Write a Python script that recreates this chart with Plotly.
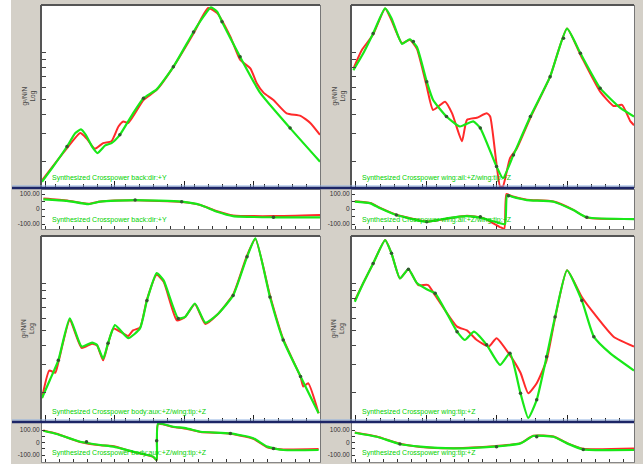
import math
import plotly.graph_objects as go

W, H = 643, 464

# ---------------- data (frequency, magnitude / phase) ----------------
# Top-left: back:dir:+Y
tl_g_f = [0, 16, 36, 48, 56, 63, 72, 80, 91, 100, 112, 131, 146, 165, 189, 218, 232, 243, 252, 259, 285, 314, 357, 400]
tl_g_m = [1.47, 1.84, 2.48, 3.03, 3.2, 2.95, 2.48, 2.25, 2.52, 2.61, 2.95, 4.06, 5.08, 5.8, 8.1, 13.6, 17.0, 19.6, 18.4, 15.8, 9.4, 5.5, 3.26, 1.98]
tl_r_f = [0, 36, 55, 64, 76, 88, 100, 110, 117, 124, 146, 165, 189, 218, 239, 252, 271, 285, 300, 309, 319, 333, 352, 372, 386, 400]
tl_r_m = [1.5, 2.42, 3.03, 2.8, 2.4, 2.61, 2.68, 3.34, 3.6, 3.52, 4.95, 5.75, 8.1, 13.3, 19.4, 18.0, 12.7, 9.0, 7.9, 6.35, 5.5, 4.95, 4.06, 3.91, 3.52, 2.95]
tl_gp_f = [2, 36, 67, 84, 134, 201, 228, 252, 275, 333, 400]
tl_gp_v = [65, 55, 33, 49, 60, 49, 27, -18, -47, -55, -55]
tl_rp_f = [2, 36, 67, 84, 134, 201, 228, 252, 275, 333, 400]
tl_rp_v = [70, 57, 35, 50, 58, 47, 27, -15, -43, -47, -40]
tl_mk_f = [36, 112, 146, 189, 218, 259, 285, 357]
tl_mk_m = [2.48, 2.95, 5.08, 8.1, 13.6, 15.8, 9.4, 3.26]
tl_pmk_f = [134, 201, 333]
tl_pmk_v = [60, 49, -55]

# Top-right: wing:ail:+Z / wing:tip:+Z
tr_g_f = [2, 16, 30, 47, 56, 71, 82, 92, 106, 115, 134, 153, 172, 182, 205, 214, 229, 253, 281, 305, 324, 352, 381, 400]
tr_g_m = [7.7, 9.9, 13.3, 19.3, 16.7, 11.4, 12.2, 10.9, 6.5, 4.95, 3.87, 3.34, 3.6, 3.26, 1.84, 1.55, 2.19, 3.87, 7.0, 14.3, 9.9, 5.9, 4.38, 3.87]
tr_r_f = [2, 14, 30, 47, 56, 71, 82, 92, 106, 115, 132, 142, 156, 163, 177, 191, 196, 210, 214, 224, 234, 253, 281, 305, 324, 352, 371, 383, 395, 400]
tr_r_m = [7.9, 10.4, 13.1, 19.3, 16.2, 11.5, 12.1, 10.6, 6.05, 4.27, 4.83, 4.06, 2.68, 3.68, 3.8, 4.06, 3.87, 1.37, 1.37, 2.08, 2.42, 3.8, 7.0, 14.3, 9.7, 5.6, 4.53, 4.6, 3.6, 3.4]
tr_gp_f = [4, 26, 40, 63, 106, 134, 163, 186, 210, 217, 220, 227, 248, 286, 314, 333, 400]
tr_gp_v = [49, 38, 5, -40, -85, -62, -47, -62, -95, -100, 93, 82, 60, 49, -7, -55, -67]
tr_rp_f = [4, 26, 40, 63, 106, 134, 163, 186, 210, 216, 219, 227, 248, 286, 314, 333, 400]
tr_rp_v = [52, 40, 8, -38, -83, -64, -45, -60, -120, -131, 100, 85, 62, 50, -5, -57, -67]
tr_mk_f = [30, 87, 106, 134, 182, 205, 229, 253, 281, 300, 324, 352]
tr_mk_m = [13.3, 11.8, 6.5, 3.87, 3.26, 1.84, 2.19, 3.87, 7.0, 12.4, 9.9, 5.9]
tr_pmk_f = [63, 106, 182, 222, 333]
tr_pmk_v = [-40, -85, -51, 88, -55]

# Bottom-left: body:aux:+Z / wing:tip:+Z
bl_g_f = [0, 11.5, 23.5, 40, 57, 72, 79, 88, 95, 105, 124, 141, 151, 165, 175, 196, 206, 220, 235, 252, 275, 295, 307, 328, 347, 372, 398]
bl_g_m = [1.83, 2.4, 3.2, 5.97, 3.93, 4.17, 4.03, 3.28, 4.13, 5.4, 4.45, 5.14, 7.8, 11.7, 10.5, 5.97, 6.1, 7.45, 5.6, 6.3, 8.4, 14.9, 19.6, 8.2, 4.33, 2.52, 1.46]
bl_r_f = [0, 10.5, 19, 23.5, 40, 57, 72, 79, 88, 95, 103, 124, 131, 141, 151, 165, 175, 194, 206, 220, 235, 252, 275, 295, 307, 328, 347, 372, 376, 383, 398]
bl_r_m = [1.83, 2.75, 2.66, 3.1, 5.8, 3.85, 4.1, 4.0, 3.2, 4.1, 5.14, 4.6, 5.0, 5.2, 7.9, 11.4, 10.3, 5.8, 6.1, 7.4, 5.5, 6.3, 8.5, 15.2, 19.4, 8.4, 4.4, 2.5, 2.17, 2.28, 1.46]
bl_gp_f = [2, 21, 55, 84, 103, 131, 160, 165, 167, 189, 208, 228, 271, 304, 324, 347, 398]
bl_gp_v = [94, 68, 6, -20, -33, -73, -113, -140, 150, 126, 113, 86, 73, 34, -33, -60, -60]
bl_rp_f = [2, 21, 55, 84, 103, 131, 160, 165, 167, 189, 208, 228, 271, 304, 324, 347, 398]
bl_rp_v = [96, 70, 4, -22, -30, -75, -115, -142, 148, 124, 110, 84, 70, 30, -38, -55, -52]
bl_mk_f = [23.5, 95, 151, 196, 275, 295, 328, 347, 372]
bl_mk_m = [3.2, 4.13, 7.8, 5.97, 8.4, 14.9, 8.2, 4.33, 2.52]
bl_pmk_f = [64, 165, 271, 333]
bl_pmk_v = [6, 14, 73, -47]

# Bottom-right: wing:tip:+Z
br_g_f = [4, 16, 30, 47, 56, 68, 80, 92, 106, 118, 149, 160, 173, 191, 210, 224, 239, 250, 262, 276, 288, 305, 326, 343, 366, 400]
br_g_m = [7.65, 10.1, 13.5, 19.1, 15.7, 10.8, 12.4, 10.1, 9.2, 8.66, 4.9, 4.33, 4.9, 4.03, 2.99, 3.56, 1.96, 1.36, 1.78, 3.38, 6.1, 12.2, 7.8, 4.55, 3.56, 2.75]
br_r_f = [4, 16, 30, 47, 56, 68, 80, 94, 108, 118, 149, 163, 177, 194, 205, 224, 239, 250, 262, 276, 288, 305, 326, 343, 371, 400]
br_r_m = [7.8, 10.1, 13.5, 19.1, 15.7, 10.8, 12.4, 9.8, 9.8, 8.4, 5.28, 5.0, 4.33, 3.93, 4.45, 3.46, 2.66, 1.96, 2.28, 3.2, 5.97, 12.2, 8.2, 6.45, 4.55, 3.93]
br_gp_f = [4, 35, 68, 97, 144, 201, 239, 257, 286, 305, 328, 400]
br_gp_v = [78, 46, -12, -33, -47, -33, -7, 52, 46, -7, -55, -60]
br_rp_f = [4, 35, 68, 97, 144, 201, 239, 257, 286, 305, 328, 400]
br_rp_v = [80, 48, -10, -35, -45, -30, -5, 54, 48, -5, -50, -47]
br_mk_f = [30, 56, 80, 118, 149, 191, 224, 239, 262, 276, 288, 326, 343]
br_mk_m = [13.5, 15.7, 12.4, 8.66, 4.9, 4.03, 3.56, 1.96, 1.78, 3.38, 6.1, 7.8, 4.55]
br_pmk_f = [68, 205, 262, 328]
br_pmk_v = [-12, -33, 46, -55]

legend_texts = [
    "Synthesized Crosspower back:dir:+Y",
    "Synthesized Crosspower wing:ail:+Z/wing:tip:+Z",
    "Synthesized Crosspower body:aux:+Z/wing:tip:+Z",
    "Synthesized Crosspower wing:tip:+Z",
]
y_title = "g²/N/N<br>Log"
phase_tickvals = [-100, -50, 0, 50, 100]
phase_ticktext = ["-100.00", "", "0", "", "100.00"]
mag_tickvals = [2, 3, 4, 5, 6, 7, 8, 9, 10, 20]

panels = [
    dict(g=(tl_g_f, tl_g_m), r=(tl_r_f, tl_r_m), gp=(tl_gp_f, tl_gp_v), rp=(tl_rp_f, tl_rp_v),
         mk=(tl_mk_f, tl_mk_m), pmk=(tl_pmk_f, tl_pmk_v)),
    dict(g=(tr_g_f, tr_g_m), r=(tr_r_f, tr_r_m), gp=(tr_gp_f, tr_gp_v), rp=(tr_rp_f, tr_rp_v),
         mk=(tr_mk_f, tr_mk_m), pmk=(tr_pmk_f, tr_pmk_v)),
    dict(g=(bl_g_f, bl_g_m), r=(bl_r_f, bl_r_m), gp=(bl_gp_f, bl_gp_v), rp=(bl_rp_f, bl_rp_v),
         mk=(bl_mk_f, bl_mk_m), pmk=(bl_pmk_f, bl_pmk_v)),
    dict(g=(br_g_f, br_g_m), r=(br_r_f, br_r_m), gp=(br_gp_f, br_gp_v), rp=(br_rp_f, br_rp_v),
         mk=(br_mk_f, br_mk_m), pmk=(br_pmk_f, br_pmk_v)),
]

# ---------------- layout geometry (pixels) ----------------
cols = [(42, 320), (352, 634)]
rows = [dict(main=(6, 187), phase=(190, 229), prange=[-133, 127]),
        dict(main=(237, 421), phase=(423, 462), prange=[-156, 156])]

def xd(a, b):
    return [a / W, b / W]

def yd(top, bot):
    return [1 - bot / H, 1 - top / H]

RED = "#ff2a2a"
GREEN = "#18e818"
fig = go.Figure()
layout = dict(width=W, height=H, margin=dict(l=0, r=0, t=0, b=0),
              paper_bgcolor="#d4d0c8", plot_bgcolor="white", showlegend=False,
              font=dict(family="Liberation Sans, Arial", size=7, color="#333"))
shapes = []
annotations = []

for i, p in enumerate(panels):
    c = i % 2
    r = i // 2
    x0, x1 = cols[c]
    row = rows[r]
    mt, mb = row["main"]
    pt, pb = row["phase"]
    mi = i + 1
    pi = i + 5
    mx = f"x{mi}"
    my = f"y{mi}"
    px = f"x{pi}"
    py = f"y{pi}"
    line_shape = dict(shape="spline", smoothing=0.5)
    fig.add_trace(go.Scatter(x=p["r"][0], y=p["r"][1], mode="lines", xaxis=mx, yaxis=my,
                             line=dict(color=RED, width=2, **line_shape)))
    fig.add_trace(go.Scatter(x=p["g"][0], y=p["g"][1], mode="lines", xaxis=mx, yaxis=my,
                             line=dict(color=GREEN, width=2.2, **line_shape)))
    fig.add_trace(go.Scatter(x=p["mk"][0], y=p["mk"][1], mode="markers", xaxis=mx, yaxis=my,
                             marker=dict(color="#2f5a2f", size=3.5)))
    fig.add_trace(go.Scatter(x=p["rp"][0], y=p["rp"][1], mode="lines", xaxis=px, yaxis=py,
                             line=dict(color=RED, width=2, **line_shape)))
    fig.add_trace(go.Scatter(x=p["gp"][0], y=p["gp"][1], mode="lines", xaxis=px, yaxis=py,
                             line=dict(color=GREEN, width=2.2, **line_shape)))
    fig.add_trace(go.Scatter(x=p["pmk"][0], y=p["pmk"][1], mode="markers", xaxis=px, yaxis=py,
                             marker=dict(color="#2f5a2f", size=3.5)))

    top_log = math.log10(20)
    layout[f"xaxis{mi}"] = dict(domain=xd(x0, x1), range=[0, 400], anchor=my,
                                showgrid=False, zeroline=False, showticklabels=False,
                                ticks="inside", ticklen=6, tickcolor="#222", tick0=5, dtick=100,
                                minor=dict(ticks="inside", ticklen=3, dtick=20, tickcolor="#222"),
                                showline=True, linecolor="#777", mirror=True)
    layout[f"yaxis{mi}"] = dict(domain=yd(mt, mb), type="log",
                                range=[top_log - (mb - mt) / 155, top_log], anchor=mx,
                                showgrid=False, zeroline=False, showticklabels=False,
                                tickvals=mag_tickvals, ticks="inside", ticklen=4, tickcolor="#444",
                                showline=True, linecolor="#777", mirror=True)
    layout[f"xaxis{pi}"] = dict(domain=xd(x0, x1), range=[0, 400], anchor=py,
                                showgrid=False, zeroline=False, showticklabels=False,
                                ticks="inside", ticklen=3, tickcolor="#333", tick0=5, dtick=20,
                                showline=True, linecolor="#888", mirror=True)
    layout[f"yaxis{pi}"] = dict(domain=yd(pt, pb), range=row["prange"], anchor=px,
                                showgrid=False, zeroline=False,
                                tickvals=phase_tickvals, ticktext=phase_ticktext,
                                ticks="inside", ticklen=3, tickcolor="#333",
                                tickfont=dict(size=6.5, color="#333"),
                                showline=True, linecolor="#777", mirror=True)

    # dark frame (left + top) of main plot
    shapes.append(dict(type="line", xref="paper", yref="paper", x0=(x0 - 1) / W, x1=(x0 - 1) / W,
                       y0=1 - mb / H, y1=1 - (mt - 1) / H, line=dict(color="#555", width=2)))
    shapes.append(dict(type="line", xref="paper", yref="paper", x0=(x0 - 1) / W, x1=x1 / W,
                       y0=1 - (mt - 1) / H, y1=1 - (mt - 1) / H, line=dict(color="#555", width=2)))

    # legend texts
    annotations.append(dict(text=legend_texts[i], xref="paper", yref="paper",
                            x=(x0 + 8) / W, y=1 - (mb - 9) / H, xanchor="left", yanchor="middle",
                            showarrow=False, font=dict(size=7, color="#00d000")))
    annotations.append(dict(text=legend_texts[i], xref="paper", yref="paper",
                            x=(x0 + 8) / W, y=1 - (pb - 9) / H, xanchor="left", yanchor="middle",
                            showarrow=False, font=dict(size=7, color="#00d000")))
    # y title
    annotations.append(dict(text=y_title, xref="paper", yref="paper",
                            x=(x0 - 14) / W, y=1 - ((mt + mb) / 2) / H, xanchor="center", yanchor="middle",
                            textangle=-90, showarrow=False, font=dict(size=6.5, color="#444")))

# blue separator lines
for row in rows:
    yb = row["main"][1] + 1
    shapes.append(dict(type="line", xref="paper", yref="paper", x0=12 / W, x1=634 / W,
                       y0=1 - (yb - 2) / H, y1=1 - (yb - 2) / H, line=dict(color="#8fb0e0", width=1)))
    shapes.append(dict(type="line", xref="paper", yref="paper", x0=12 / W, x1=634 / W,
                       y0=1 - yb / H, y1=1 - yb / H, line=dict(color="#1c2566", width=2.5)))

# white strip at far left
shapes.append(dict(type="rect", xref="paper", yref="paper", x0=0, x1=11 / W, y0=0, y1=1,
                   fillcolor="white", line=dict(width=0), layer="below"))

layout["shapes"] = shapes
layout["annotations"] = annotations
fig.update_layout(**layout)
fig.write_html("out.html", config={"displayModeBar": False},
               post_script="document.body.style.margin='0';document.body.style.overflow='hidden';")
